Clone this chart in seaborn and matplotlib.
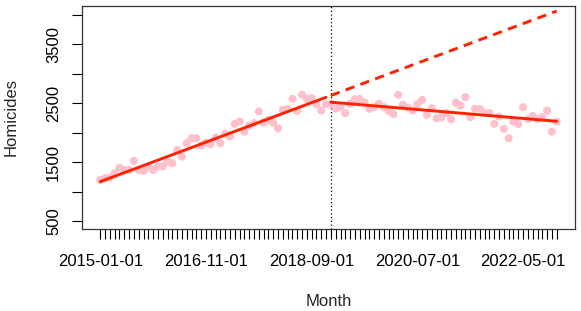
import matplotlib
matplotlib.use("Agg")
import matplotlib.pyplot as plt
import seaborn as sns
import numpy as np
import pandas as pd

sns.set_style("white")
plt.rcParams["font.family"] = ["Liberation Sans", "DejaVu Sans"]

# --------------------------------------------------
# data: monthly homicides, 2015-01 .. 2022-12
# --------------------------------------------------

months = pd.date_range("2015-01-01", periods=96, freq="MS")
homicides = [
    1197, 1226, 1236, 1311, 1406, 1367, 1367, 1520, 1367, 1350,
    1413, 1367, 1424, 1424, 1508, 1480, 1707, 1593, 1821, 1906,
    1906, 1780, 1830, 1804, 1916, 1821, 1979, 1933, 2149, 2188,
    2018, 2120, 2161, 2358, 2171, 2217, 2171, 2076, 2387, 2399,
    2574, 2370, 2642, 2574, 2586, 2484, 2375, 2484, 2489, 2410,
    2443, 2331, 2489, 2569, 2569, 2511, 2404, 2433, 2489, 2433,
    2370, 2314, 2642, 2472, 2427, 2375, 2484, 2557, 2302, 2416,
    2246, 2260, 2331, 2229, 2511, 2460, 2603, 2263, 2404, 2404,
    2331, 2331, 2149, 2274, 2064, 1906, 2188, 2149, 2433, 2229,
    2285, 2229, 2263, 2375, 2018, 2188,
]
intervention = 48          # first month of the post period (2019-01)
label_every = 22

df = pd.DataFrame({"t": np.arange(len(months)), "y": homicides})
pre = df[df.t < intervention]
post = df[df.t >= intervention]

# segmented regression (separate fit per period)
b_pre = np.polyfit(pre.t, pre.y, 1)
b_post = np.polyfit(post.t, post.y, 1)
pre_line = pd.DataFrame({"t": pre.t, "y": np.polyval(b_pre, pre.t)})
cf_line = pd.DataFrame({"t": post.t, "y": np.polyval(b_pre, post.t)})
post_line = pd.DataFrame({"t": post.t, "y": np.polyval(b_post, post.t)})

fig = plt.figure(figsize=(5.81, 3.11), dpi=100)
ax = fig.add_axes([82 / 581, 1 - 229 / 311, (575 - 82) / 581, (229 - 6) / 311])

line_col = "#ff2200"
sns.scatterplot(data=df, x="t", y="y", color="pink", s=34, edgecolor="none", ax=ax, zorder=2)
sns.lineplot(data=pre_line, x="t", y="y", color=line_col, lw=2.1, ax=ax, zorder=3)
sns.lineplot(data=post_line, x="t", y="y", color=line_col, lw=2.1, ax=ax, zorder=3)
sns.lineplot(data=cf_line, x="t", y="y", color=line_col, lw=2.1, ax=ax, zorder=3,
             dashes=False, linestyle=(0, (3.2, 2.2)))
ax.axvline(intervention, color="black", lw=0.9, ls=(0, (1, 2)), zorder=1)

ax.set_xlim(-3.8, 98.8)
ax.set_ylim(365, 4150)

ax.set_xticks(df.t)
ax.set_xticklabels([m.strftime("%Y-%m-%d") if i % label_every == 0 else ""
                    for i, m in enumerate(months)])
yt = np.arange(500, 4001, 500)
ax.set_yticks(yt)
ax.set_yticklabels([str(v) if v % 1000 == 500 else "" for v in yt],
                   rotation=90, va="center")
ax.tick_params(axis="both", direction="out", length=7, width=0.8, colors="black",
               labelsize=12, left=True, bottom=True)
ax.tick_params(axis="x", pad=11)
ax.tick_params(axis="y", pad=8)

for sp in ax.spines.values():
    sp.set_color("#333333")
    sp.set_linewidth(0.9)

ax.set_xlabel("Month", fontsize=12, labelpad=18)
ax.set_ylabel("Homicides", fontsize=12, labelpad=20)

fig.savefig("out.png", dpi=100)
